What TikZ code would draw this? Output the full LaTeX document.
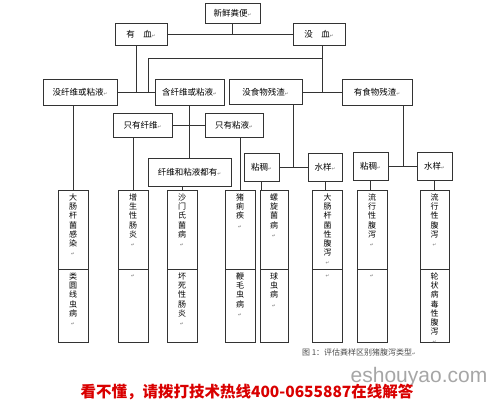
\documentclass[tikz,border=0pt]{standalone}
\usepackage{fontspec}
\setmainfont{Noto Sans CJK SC}
\newfontfamily\symfont{DejaVu Sans}
\newfontfamily\webfont{Liberation Sans}
\newcommand{\pmk}{{\symfont\fontsize{4.5}{5}\selectfont\color{black!55}↵}}
\tikzset{
  box/.style={draw=black!80, line width=0.7pt, fill=white, inner sep=0pt, font=\fontsize{8.5}{10}\selectfont},
  tallbox/.style={draw=black!80, line width=0.7pt, minimum width=30, inner sep=0pt},
  vtext/.style={anchor=north, align=center, inner sep=0pt, font=\fontsize{8}{9.2}\selectfont},
  link/.style={draw=black!80, line width=0.7pt},
}

\begin{document}
\begin{tikzpicture}[x=1pt, y=-1pt]
\useasboundingbox (0,0) rectangle (500,405);
% first split: blood
\node[box, minimum width=55, minimum height=20] (fresh) at (232.5,13) {新鲜粪便\pmk};
\node[box, minimum width=52, minimum height=22] (blood) at (141,34) {有　血\pmk};
\node[box, minimum width=52, minimum height=22] (noblood) at (319,34) {没　血\pmk};
\draw[link] (blood.east) -- (noblood.west);
\draw[link] (fresh.south) -- (fresh.south |- blood.east);
% second row
\node[box, minimum width=74, minimum height=26] (nofib) at (80,92) {没纤维或粘液\pmk};
\node[box, minimum width=69, minimum height=26] (fib) at (189.5,92) {含纤维或粘液\pmk};
\node[box, minimum width=73, minimum height=25] (nofood) at (265.5,92) {没食物残渣\pmk};
\node[box, minimum width=70, minimum height=26] (food) at (377,92) {有食物残渣\pmk};
\coordinate (jb) at ([xshift=-5]blood.south);
\coordinate (jn) at ([xshift=3]noblood.south);
\coordinate (j1) at (148,58);
\draw[link] (nofib.east) -- (fib.west);
\draw[link] (jb) -- (jb |- nofib.east);
\draw[link] (j1) -- (j1 |- fib.west);
\draw[link] (j1) -- (j1 -| jn);
\draw[link] (jn) -- (jn |- food.west);
\draw[link] (nofood.east) -- (food.west);
% fibre / mucus
\node[box, minimum width=59, minimum height=24] (onlyfib) at (142.5,125) {只有纤维\pmk};
\node[box, minimum width=58, minimum height=24] (onlymuc) at (234,125) {只有粘液\pmk};
\node[box, minimum width=83, minimum height=28] (both) at (189.5,172) {纤维和粘液都有\pmk};
\draw[link] (onlyfib.east) -- (onlymuc.west);
\draw[link] (fib.south) -- (both.north);
% food remains
\node[box, minimum width=35, minimum height=28] (vis1) at (261.5,167) {粘稠\pmk};
\node[box, minimum width=34, minimum height=28] (wat1) at (325,167) {水样\pmk};
\node[box, minimum width=35, minimum height=28] (vis2) at (370.5,166) {粘稠\pmk};
\node[box, minimum width=35, minimum height=28] (wat2) at (434.5,166) {水样\pmk};
\coordinate (j3) at (293,167);
\coordinate (j4) at (403,166);
\draw[link] (vis1.east) -- (wat1.west);
\draw[link] (j3 |- nofood.south) -- (j3);
\draw[link] (vis2.east) -- (wat2.west);
\draw[link] (j4 |- food.south) -- (j4);
% diagnoses
\node[tallbox, minimum height=79] (d1) at (73,229.5) {};
\node[tallbox, minimum height=73] (d1b) at (73,305.5) {};
\node[tallbox, minimum height=79] (d2) at (133,229.5) {};
\node[tallbox, minimum height=73] (d2b) at (133,305.5) {};
\node[tallbox, minimum height=79] (d3) at (182,229.5) {};
\node[tallbox, minimum height=73] (d3b) at (182,305.5) {};
\node[tallbox, minimum height=79] (d4) at (240,229.5) {};
\node[tallbox, minimum height=73] (d4b) at (240,305.5) {};
\node[tallbox, minimum height=79, minimum width=28] (d5) at (274,229.5) {};
\node[tallbox, minimum height=73, minimum width=28] (d5b) at (274,305.5) {};
\node[tallbox, minimum height=79] (d6) at (327.5,229.5) {};
\node[tallbox, minimum height=73] (d6b) at (327.5,305.5) {};
\node[tallbox, minimum height=79] (d7) at (372,229.5) {};
\node[tallbox, minimum height=73] (d7b) at (372,305.5) {};
\node[tallbox, minimum height=79, minimum width=29] (d8) at (434.5,229.5) {};
\node[tallbox, minimum height=73, minimum width=29] (d8b) at (434.5,305.5) {};
\node[vtext] (t1) at ([yshift=-4]d1.north) {大\\肠\\杆\\菌\\感\\染\\\pmk};
\node[vtext] (t1b) at ([yshift=-4]d1b.north) {类\\圆\\线\\虫\\病\\\pmk};
\node[vtext] (t2) at ([yshift=-4]d2.north) {增\\生\\性\\肠\\炎\\\pmk};
\node[vtext] (t2b) at ([yshift=-6]d2b.north) {\pmk};
\node[vtext] (t3) at ([yshift=-4]d3.north) {沙\\门\\氏\\菌\\病\\\pmk};
\node[vtext] (t3b) at ([yshift=-4]d3b.north) {坏\\死\\性\\肠\\炎\\\pmk};
\node[vtext] (t4) at ([yshift=-4]d4.north) {猪\\痢\\疾\\\pmk};
\node[vtext] (t4b) at ([yshift=-4]d4b.north) {鞭\\毛\\虫\\病\\\pmk};
\node[vtext] (t5) at ([yshift=-4]d5.north) {螺\\旋\\菌\\病\\\pmk};
\node[vtext] (t5b) at ([yshift=-4]d5b.north) {球\\虫\\病\\\pmk};
\node[vtext] (t6) at ([yshift=-4]d6.north) {大\\肠\\杆\\菌\\性\\腹\\泻\\\pmk};
\node[vtext] (t6b) at ([yshift=-6]d6b.north) {\pmk};
\node[vtext] (t7) at ([yshift=-4]d7.north) {流\\行\\性\\腹\\泻\\\pmk};
\node[vtext] (t7b) at ([yshift=-6]d7b.north) {\pmk};
\node[vtext] (t8) at ([yshift=-4]d8.north) {流\\行\\性\\腹\\泻\\\pmk};
\node[vtext] (t8b) at ([yshift=-4]d8b.north) {轮\\状\\病\\毒\\性\\腹\\泻\\\pmk};
\draw[link] (d1.north |- nofib.south) -- (d1.north);
\draw[link] (d2.north |- onlyfib.south) -- (d2.north);
\draw[link] (d3.north |- both.south) -- (d3.north);
\draw[link] (d4.north |- onlymuc.south) -- (d4.north);
\draw[link] (vis1.south) -- (vis1.south |- d5.north);
\draw[link] (wat1.south) -- (wat1.south |- d6.north);
\draw[link] (vis2.south) -- (vis2.south |- d7.north);
\draw[link] (wat2.south) -- (wat2.south |- d8.north);
% caption and footer
\node[font=\fontsize{8}{9}\selectfont, text=black!70] (caption) at (359,352) {图 1：评估粪样区别猪腹泻类型\pmk};
\node[font=\webfont\fontsize{21}{22}\selectfont, text=black!35] (site) at (419,377) {eshouyao.com};
\node[font=\bfseries\fontsize{15.5}{17}\selectfont, text=red!85!black] (hotline) at (247,392) {看不懂，请拨打技术热线400-0655887在线解答};
\end{tikzpicture}
\end{document}
